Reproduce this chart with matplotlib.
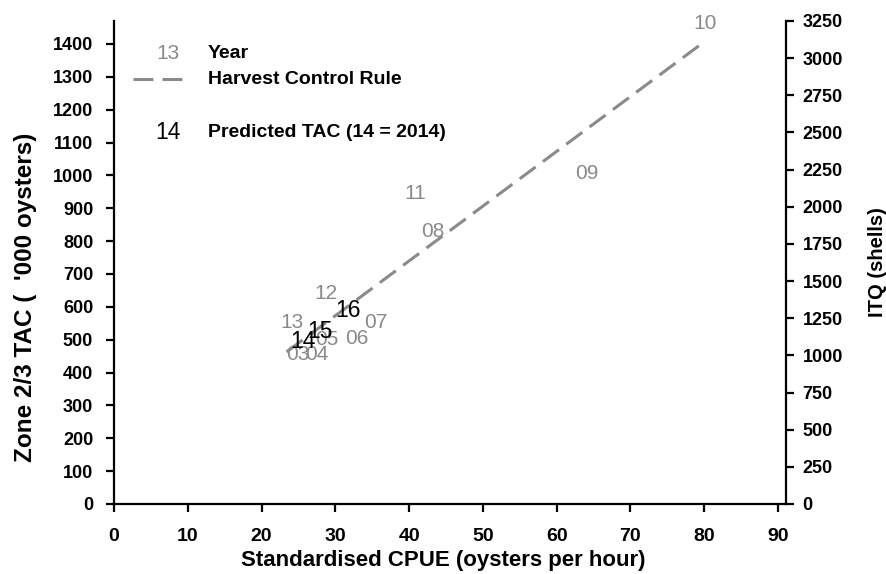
import matplotlib
matplotlib.use("Agg")
import matplotlib.pyplot as plt

plt.rcParams["font.family"] = ["Liberation Sans", "DejaVu Sans"]

# observed years (grey labels)
year_labels = ["03", "04", "05", "06", "07", "08", "09", "10", "11", "12", "13"]
year_cpue = [24.9, 27.5, 28.9, 32.9, 35.5, 43.2, 64.1, 80.1, 40.8, 28.7, 24.1]
year_tac = [456, 456, 502, 505, 551, 828, 1007, 1461, 946, 642, 551]

# predicted TAC (black labels)
pred_labels = ["14", "15", "16"]
pred_cpue = [25.6, 27.9, 31.7]
pred_tac = [493, 526, 590]

# harvest control rule
hcr_cpue = [23.4, 79.8]
hcr_tac = [463, 1403]

TAC_MAX = 1470
ITQ_MAX = 3250
GREY = "#8a8a8a"
DASH = (6.5, 3.0)

fig = plt.figure(figsize=(8.87, 5.74), dpi=100)
ax = fig.add_axes([0.1285, 0.122, 0.7577, 0.8415])

ax.plot(hcr_cpue, hcr_tac, color=GREY, lw=2.2, dashes=DASH)

for lab, x, y in zip(year_labels, year_cpue, year_tac):
    ax.text(x, y, lab, color=GREY, fontsize=15, ha="center", va="center")
for lab, x, y in zip(pred_labels, pred_cpue, pred_tac):
    ax.text(x, y, lab, color="black", fontsize=16.5, ha="center", va="center")

ax.set_xlim(0, 91.1)
ax.set_ylim(0, TAC_MAX)
ax.set_xticks(range(0, 91, 10))
ax.set_yticks(range(0, 1401, 100))

for side in ("top", "right"):
    ax.spines[side].set_visible(False)
for side in ("left", "bottom"):
    ax.spines[side].set_linewidth(1.6)

ax.tick_params(axis="both", direction="out", length=6, width=1.6)
ax.tick_params(axis="y", labelsize=13, pad=9)
ax.tick_params(axis="x", labelsize=14, pad=11)
for lbl in ax.get_xticklabels() + ax.get_yticklabels():
    lbl.set_fontweight("bold")

ax.set_xlabel("Standardised CPUE (oysters per hour)", fontsize=16, fontweight="bold")
ax.xaxis.set_label_coords(0.49, -0.096)
ax.set_ylabel("Zone 2/3 TAC (  '000 oysters)", fontsize=17.5, fontweight="bold")
ax.yaxis.set_label_coords(-0.1146, 0.427)

ax2 = ax.twinx()
ax2.set_ylim(0, ITQ_MAX)
ax2.set_yticks(range(0, 3251, 250))
for side in ("top", "left", "bottom"):
    ax2.spines[side].set_visible(False)
ax2.spines["right"].set_linewidth(1.6)
ax2.tick_params(axis="y", direction="out", length=6, width=1.6, labelsize=13, pad=6)
for lbl in ax2.get_yticklabels():
    lbl.set_fontweight("bold")
ax2.set_ylabel("ITQ (shells)", fontsize=14.5, fontweight="bold")
ax2.yaxis.set_label_coords(1.122, 0.50)

# hand-made legend
ax.text(7.3, 1372, "13", color=GREY, fontsize=15, ha="center", va="center")
ax.text(12.7, 1372, "Year", fontsize=14, fontweight="bold", va="center")
ax.plot([2.6, 10.3], [1293, 1293], color=GREY, lw=2.2, dashes=DASH)
ax.text(12.7, 1293, "Harvest Control Rule", fontsize=14, fontweight="bold", va="center")
ax.text(7.3, 1132, "14", color="black", fontsize=16.5, ha="center", va="center")
ax.text(12.7, 1132, "Predicted TAC (14 = 2014)", fontsize=14, fontweight="bold", va="center")

fig.savefig("out.png", dpi=100)
